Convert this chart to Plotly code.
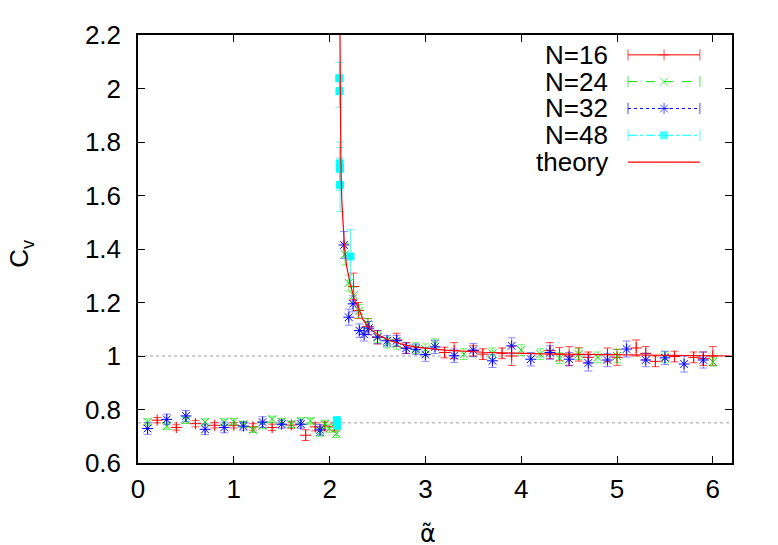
import plotly.graph_objects as go

# data
alpha16 = [0.2, 0.4, 0.6, 0.8, 1.0, 1.2, 1.4, 1.6, 1.75, 1.85, 1.95, 2.05,
           2.25, 2.3, 2.4, 2.5, 2.7, 2.8, 3.2, 3.3, 3.5, 3.6, 3.8, 3.9, 4.3, 4.4,
           4.5, 4.6, 4.7, 4.9, 5.0, 5.2, 5.3, 5.4, 5.6, 5.8, 5.9, 6.0]
cv16 = [0.76, 0.733, 0.747, 0.741, 0.741, 0.735, 0.733, 0.742, 0.704, 0.735, 0.738, 0.735,
        1.26, 1.17, 1.11, 1.07, 1.06, 1.03, 1.013, 1.02, 1.02, 1.007, 1.01, 1.0, 1.02, 1.007,
        1.0, 1.006, 0.995, 1.005, 0.995, 1.03, 1.01, 0.98, 0.998, 0.995, 0.99, 1.0]
err16 = [0.01, 0.01, 0.012, 0.01, 0.01, 0.012, 0.012, 0.012, 0.02, 0.015, 0.015, 0.015,
         0.05, 0.03, 0.03, 0.025, 0.025, 0.02, 0.02, 0.03, 0.02, 0.02, 0.02, 0.035, 0.03, 0.025,
         0.035, 0.025, 0.02, 0.025, 0.03, 0.03, 0.025, 0.02, 0.02, 0.02, 0.025, 0.035]

alpha24 = [0.1, 0.3, 0.5, 0.7, 0.9, 1.0, 1.1, 1.2, 1.3, 1.4, 1.5, 1.6, 1.7, 1.8, 1.9, 1.95,
           2.0, 2.07, 2.16, 2.2, 2.25, 2.31, 2.4, 2.5, 2.6, 2.7, 2.9, 3.0, 3.1, 3.4, 3.7, 4.0,
           4.2, 4.4, 4.6, 4.8, 5.0, 5.5, 6.0]
cv24 = [0.753, 0.738, 0.76, 0.753, 0.753, 0.755, 0.745, 0.724, 0.74, 0.763, 0.755, 0.745,
        0.757, 0.757, 0.715, 0.745, 0.73, 0.71, 1.38, 1.273, 1.227, 1.168, 1.12, 1.07, 1.05,
        1.045, 1.03, 1.025, 1.044, 1.007, 1.01, 1.022, 1.007, 0.992, 1.007, 0.995, 1.0, 0.995, 0.978]
err24 = [0.012, 0.012, 0.012, 0.012, 0.012, 0.012, 0.01, 0.01, 0.012, 0.012, 0.012, 0.012,
         0.012, 0.012, 0.015, 0.015, 0.015, 0.015, 0.04, 0.03, 0.03, 0.025, 0.02, 0.02, 0.02,
         0.02, 0.02, 0.02, 0.02, 0.02, 0.02, 0.02, 0.02, 0.02, 0.02, 0.02, 0.025, 0.02, 0.015]

alpha32 = [0.1, 0.3, 0.5, 0.7, 0.9, 1.1, 1.3, 1.5, 1.7, 1.9,
           2.15, 2.2, 2.245, 2.31, 2.36, 2.41, 2.5, 2.6, 2.7, 2.8, 2.9, 3.0, 3.1, 3.3, 3.5,
           3.7, 3.9, 4.1, 4.3, 4.5, 4.7, 4.9, 5.1, 5.3, 5.5, 5.7, 5.9]
cv32 = [0.729, 0.763, 0.776, 0.726, 0.733, 0.738, 0.753, 0.745, 0.745, 0.724,
        1.415, 1.145, 1.195, 1.095, 1.081, 1.104, 1.071, 1.057, 1.057, 1.029, 1.025, 1.005,
        1.034, 1.001, 1.022, 0.982, 1.038, 0.988, 1.013, 0.988, 0.974, 0.985, 1.026, 0.985,
        0.993, 0.97, 0.985]
err32 = [0.022, 0.02, 0.02, 0.02, 0.02, 0.015, 0.02, 0.015, 0.015, 0.02,
         0.05, 0.03, 0.03, 0.025, 0.025, 0.025, 0.025, 0.02, 0.02, 0.02, 0.02, 0.025,
         0.025, 0.025, 0.025, 0.025, 0.03, 0.025, 0.025, 0.025, 0.03, 0.025, 0.03, 0.025,
         0.025, 0.03, 0.03]

alpha48 = [2.075, 2.08, 2.101, 2.103, 2.106, 2.107, 2.109, 2.218]
cv48 = [0.76, 0.74, 2.038, 1.99, 1.72, 1.70, 1.64, 1.372]
err48 = [0.01, 0.01, 0.06, 0.06, 0.08, 0.08, 0.1, 0.1]

alpha_th = [2.100, 2.105, 2.108, 2.112, 2.118, 2.127, 2.14, 2.155, 2.176, 2.2, 2.217,
            2.26, 2.3, 2.35, 2.41, 2.5, 2.63, 2.8, 2.93, 3.2, 3.6, 4.2, 5.0, 6.2]
cv_th = [2.6, 2.3, 2.1, 1.9, 1.72, 1.58, 1.48, 1.41, 1.34, 1.29, 1.267,
         1.21, 1.18, 1.135, 1.106, 1.08, 1.057, 1.04, 1.032, 1.022, 1.014, 1.008, 1.004, 1.0]

ref_levels = [1.0, 0.75]

xtick_vals = [0, 1, 2, 3, 4, 5, 6]
ytick_vals = [0.6, 0.8, 1.0, 1.2, 1.4, 1.6, 1.8, 2.0, 2.2]
ytick_text = ["0.6", "0.8", "1", "1.2", "1.4", "1.6", "1.8", "2", "2.2"]

names = ["N=16", "N=24", "N=32", "N=48", "theory"]

FONT = "Liberation Sans, Arial, sans-serif"

series = [
    (alpha16, cv16, err16, "#ff0000", "rgba(255,0,0,0.7)", "cross-thin", 8, "solid"),
    (alpha24, cv24, err24, "#00e000", "rgba(0,230,0,0.55)", "x-thin", 8, "dash"),
    (alpha32, cv32, err32, "#0000ff", "rgba(0,0,255,0.45)", "asterisk-open", 9, "dot"),
    (alpha48, cv48, err48, "#00ffff", "rgba(0,230,230,0.6)", "square", 7, "dashdot"),
]

fig = go.Figure()

for xs, ys, es, col, ecol, sym, size, dash in series:
    fig.add_trace(go.Scatter(
        x=xs, y=ys, mode="markers", showlegend=False,
        marker=dict(symbol=sym, size=size, color=col, line=dict(color=col, width=1)),
        error_y=dict(type="data", array=es, visible=True, color=ecol, thickness=1, width=4),
    ))

fig.add_trace(go.Scatter(x=alpha_th, y=cv_th, mode="lines", showlegend=False,
                         line=dict(color="#ff0000", width=1.2)))

for lev in ref_levels:
    fig.add_shape(type="line", xref="paper", x0=0, x1=1, yref="y", y0=lev, y1=lev,
                  line=dict(color="#a0a0a0", width=1, dash="dot"), layer="below")

# hand-made legend, text on the left and sample on the right like gnuplot
row_y = [0.9536, 0.8910, 0.8283, 0.7657, 0.7030]
lx0, lxc, lx1, ltext = 0.8249, 0.8856, 0.9460, 0.7947
for i, name in enumerate(names):
    fig.add_annotation(x=ltext, y=row_y[i], xref="paper", yref="paper", text=name,
                       showarrow=False, xanchor="right", yanchor="middle",
                       font=dict(family=FONT, size=26, color="black"))
for i, (xs, ys, es, col, ecol, sym, size, dash) in enumerate(series):
    fig.add_trace(go.Scatter(
        x=[lx0, lxc, lx1], y=[row_y[i]] * 3, xaxis="x2", yaxis="y2",
        mode="lines+markers", showlegend=False, cliponaxis=False,
        line=dict(color=col, width=1, dash=dash),
        marker=dict(symbol=["line-ns", sym, "line-ns"], size=[8, size, 8], color=col,
                    line=dict(color=col, width=1)),
    ))
fig.add_trace(go.Scatter(x=[lx0, lx1], y=[row_y[4]] * 2, xaxis="x2", yaxis="y2",
                         mode="lines", showlegend=False, cliponaxis=False,
                         line=dict(color="#ff0000", width=1.2)))

# axis titles
fig.add_annotation(x=0.489, y=-0.165, xref="paper", yref="paper", text="\u03b1\u0303",
                   showarrow=False, xanchor="center", yanchor="middle",
                   font=dict(family="DejaVu Sans", size=24, color="black"))
fig.add_annotation(x=-0.198, y=0.49, xref="paper", yref="paper", text="C<sub>v</sub>",
                   showarrow=False, textangle=-90, xanchor="center", yanchor="middle",
                   font=dict(family=FONT, size=26, color="black"))

axis_common = dict(showline=True, linecolor="black", linewidth=1.5, mirror="ticks",
                   ticks="inside", ticklen=7, tickwidth=1, tickcolor="black",
                   showgrid=False, zeroline=False,
                   tickfont=dict(family=FONT, size=26, color="black"))

# the page adds an 8px body margin, so the figure is 8px smaller each way
fig.update_layout(
    width=770, height=537,
    margin=dict(l=130, r=46, t=24, b=82),
    paper_bgcolor="white", plot_bgcolor="white",
    font=dict(family=FONT, size=26, color="black"),
    xaxis=dict(range=[0, 6.2], tickvals=xtick_vals, ticklabelstandoff=2, **axis_common),
    yaxis=dict(range=[0.6, 2.2], tickvals=ytick_vals, ticktext=ytick_text,
               ticklabelstandoff=10, **axis_common),
    xaxis2=dict(overlaying="x", range=[0, 1], visible=False),
    yaxis2=dict(overlaying="y", range=[0, 1], visible=False),
)

fig.write_html("out.html")
